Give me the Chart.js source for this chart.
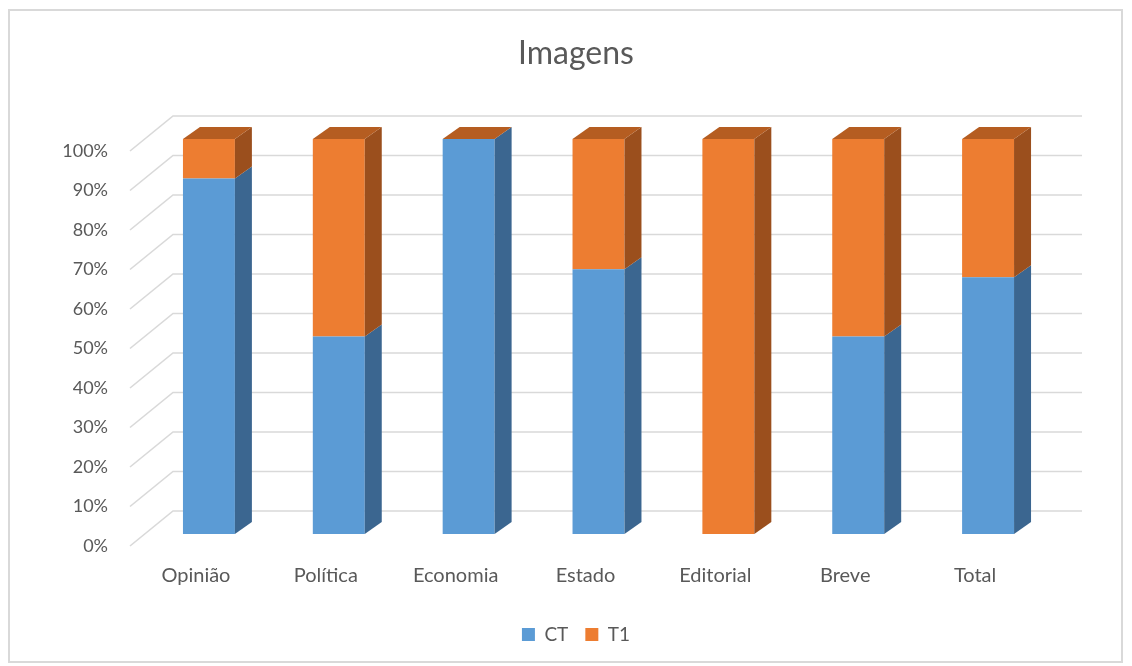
<!DOCTYPE html>
<html>
<head>
<meta charset="utf-8">
<script src="https://cdn.jsdelivr.net/npm/chart.js@4/dist/chart.umd.min.js"></script>
<style>
  html, body { margin: 0; padding: 0; background: #fff; }
  #wrap { width: 1132px; height: 666px; }
</style>
</head>
<body>
<div id="wrap"><canvas id="chart" width="1132" height="666"></canvas></div>
<script>
const categories = ['Opinião', 'Política', 'Economia', 'Estado', 'Editorial', 'Breve', 'Total'];
const ctValues = [90, 50, 100, 67, 0, 50, 65];
const t1Values = [10, 50, 0, 33, 100, 50, 35];
const seriesNames = ['CT', 'T1'];
const yTicks = [0, 10, 20, 30, 40, 50, 60, 70, 80, 90, 100];

const textColor = '#595959';
const gridColor = '#d9d9d9';
const depthX = 17, depthY = 12; // bar depth in px

// side colors for the fake 3d look
const sideColors = ['#3b6690', '#9b4f1d'];
const topColor = '#b55d21';

// back wall + left side wall lines, like excel 3d
const wallPlugin = {
  id: 'wall',
  beforeDraw(chart) {
    const ctx = chart.ctx;
    ctx.save();
    ctx.fillStyle = '#fff';
    ctx.fillRect(0, 0, chart.width, chart.height);
    ctx.strokeStyle = gridColor;
    ctx.lineWidth = 2;
    ctx.strokeRect(9, 10, 1113, 652);
    ctx.restore();
  },
  beforeDatasetsDraw(chart) {
    const { ctx, chartArea, scales } = chart;
    const y = scales.y;
    ctx.save();
    ctx.strokeStyle = gridColor;
    ctx.lineWidth = 1.6;
    for (const v of yTicks) {
      const py = y.getPixelForValue(v);
      ctx.beginPath();
      ctx.moveTo(chartArea.left - 14, py + 12);
      ctx.lineTo(chartArea.left + 29, py - 23);
      ctx.lineTo(chartArea.right + 29, py - 23);
      ctx.stroke();
    }
    ctx.restore();
  },
  afterDatasetsDraw(chart) {
    const ctx = chart.ctx;
    const n = chart.data.datasets.length;
    ctx.save();
    chart.data.datasets.forEach((ds, di) => {
      const meta = chart.getDatasetMeta(di);
      meta.data.forEach(bar => {
        const { x, y, base, width } = bar.getProps(['x', 'y', 'base', 'width'], true);
        const left = x - width / 2, right = x + width / 2;
        const top = Math.min(y, base), bottom = Math.max(y, base);
        if (bottom - top > 0.5) {
          ctx.fillStyle = sideColors[di];
          ctx.beginPath();
          ctx.moveTo(right, bottom);
          ctx.lineTo(right + depthX, bottom - depthY);
          ctx.lineTo(right + depthX, top - depthY);
          ctx.lineTo(right, top);
          ctx.closePath();
          ctx.fill();
        }
        if (di === n - 1) {
          ctx.fillStyle = topColor;
          ctx.beginPath();
          ctx.moveTo(left, top);
          ctx.lineTo(left + depthX, top - depthY);
          ctx.lineTo(right + depthX, top - depthY);
          ctx.lineTo(right, top);
          ctx.closePath();
          ctx.fill();
        }
      });
    });
    ctx.restore();
  }
};

Chart.defaults.font.family = 'Lato, "Open Sans", sans-serif';
Chart.defaults.color = textColor;

new Chart(document.getElementById('chart'), {
  type: 'bar',
  data: {
    labels: categories,
    datasets: [
      { label: seriesNames[0], data: ctValues, backgroundColor: '#5b9bd5', borderWidth: 0 },
      { label: seriesNames[1], data: t1Values, backgroundColor: '#ed7d31', borderWidth: 0 }
    ]
  },
  options: {
    responsive: false,
    animation: false,
    layout: { padding: { left: 20, right: 0, top: 0, bottom: 12 } },
    datasets: { bar: { barPercentage: 0.4, categoryPercentage: 1 } },
    plugins: {
      title: {
        display: true,
        text: 'Imagens',
        color: textColor,
        font: { size: 32, weight: 'normal' },
        padding: { top: 34, bottom: 66.6 }
      },
      legend: {
        position: 'bottom',
        labels: { boxWidth: 13, boxHeight: 13, padding: 17, font: { size: 19 }, color: textColor }
      },
      tooltip: { enabled: false }
    },
    scales: {
      x: {
        stacked: true,
        grid: { display: false, drawTicks: false },
        border: { display: false },
        ticks: { padding: 30, labelOffset: -13, font: { size: 20 }, color: textColor },
        afterFit: s => { s.height = 74; }
      },
      y: {
        stacked: true,
        min: 0,
        max: 100,
        grid: { display: false, drawTicks: false },
        border: { display: false },
        ticks: {
          stepSize: 10,
          padding: 36,
          labelOffset: 12,
          font: { size: 18 },
          color: textColor,
          callback: v => v + '%'
        },
        afterFit: s => { s.width = 124; }
      },
      // empty axis on the right, only to reserve space for the 3d depth
      yRight: {
        position: 'right',
        grid: { display: false, drawTicks: false },
        border: { display: false },
        ticks: { display: false },
        afterFit: s => { s.width = 79; }
      }
    }
  },
  plugins: [wallPlugin]
});
</script>
</body>
</html>
